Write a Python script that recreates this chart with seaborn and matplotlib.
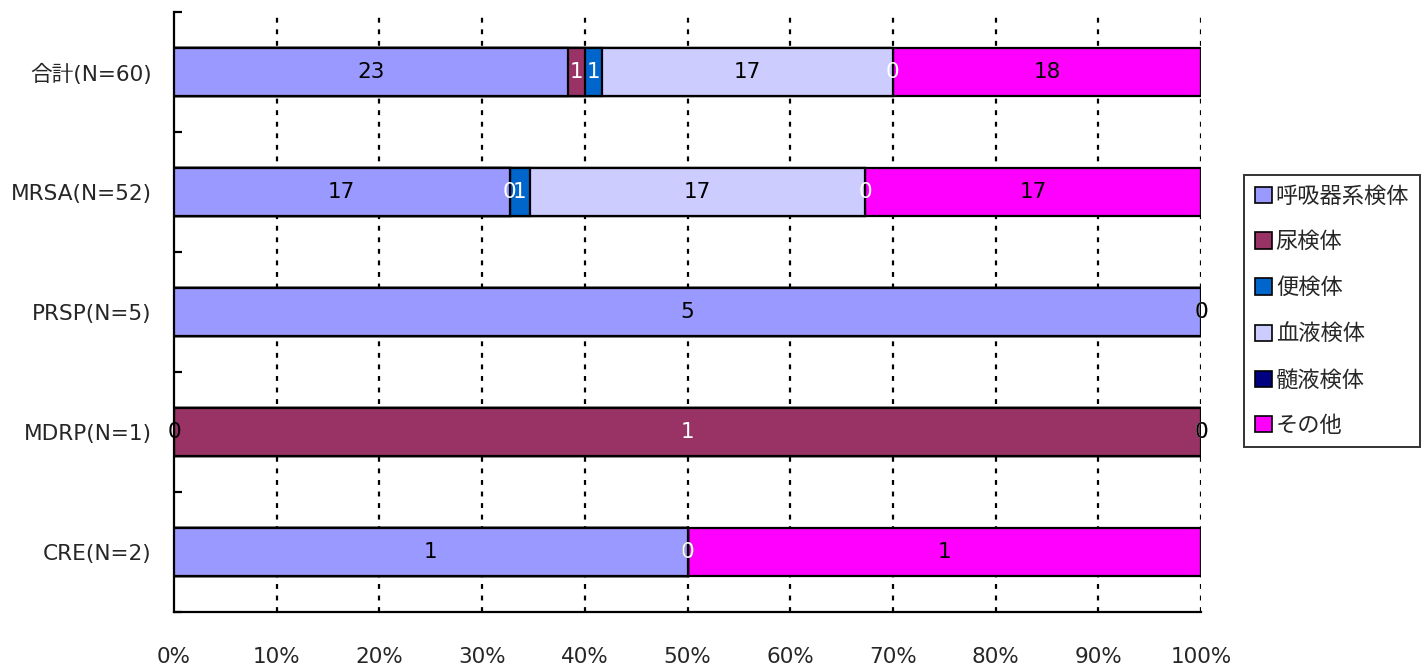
import numpy as np
import pandas as pd
import matplotlib
matplotlib.use("Agg")
import matplotlib.pyplot as plt
from matplotlib.patches import Patch
from matplotlib.ticker import FixedLocator
import seaborn as sns

categories = ["合計(N=60)", "MRSA(N=52)", "PRSP(N=5)", "MDRP(N=1)", "CRE(N=2)"]
series = ["呼吸器系検体", "尿検体", "便検体", "血液検体", "髄液検体", "その他"]
colors = ["#9999FF", "#993366", "#0066CC", "#CCCCFF", "#000080", "#FF00FF"]
label_colors = ["black", "white", "white", "black", "white", "black"]
v_resp = [23, 17, 5, 0, 1]
v_urine = [1, 0, 0, 1, 0]
v_stool = [1, 1, 0, 0, 0]
v_blood = [17, 17, 0, 0, 0]
v_csf = [0, 0, 0, 0, 0]
v_other = [18, 17, 0, 0, 1]
x_ticks = [0, 10, 20, 30, 40, 50, 60, 70, 80, 90, 100]

sns.set_theme(style="white")
plt.rcParams["font.family"] = ["DejaVu Sans", "Noto Sans CJK JP"]

vals = np.array([v_resp, v_urine, v_stool, v_blood, v_csf, v_other], dtype=float)
totals = vals.sum(axis=0)
pct = vals / totals * 100
cum = np.cumsum(pct, axis=0)

fig = plt.figure(figsize=(14.23, 6.68), dpi=100)
ax = fig.add_axes([174 / 1423, 56 / 668, (1201 - 174) / 1423, 600 / 668])

for i in range(len(series) - 1, -1, -1):
    df = pd.DataFrame({"cat": categories, "val": cum[i]})
    sns.barplot(data=df, x="val", y="cat", order=categories, color=colors[i],
                width=0.4, edgecolor="black", linewidth=1.6, errorbar=None,
                saturation=1, orient="h", ax=ax, zorder=3)

for i in range(len(series)):
    for j in range(len(categories)):
        left = cum[i][j] - pct[i][j]
        xc = left + pct[i][j] / 2
        ax.text(xc, j, f"{int(vals[i][j])}", ha="center", va="center",
                color=label_colors[i], fontsize=15.5, zorder=5)

ax.set_xlim(0, 100)
ax.set_ylim(len(categories) - 0.5, -0.5)
ax.xaxis.set_major_locator(FixedLocator(x_ticks))
ax.set_xticklabels([f"{t}%" for t in x_ticks])
ax.set_xlabel("")
ax.set_ylabel("")
ax.grid(False)
for t in x_ticks[1:]:
    ax.axvline(t, color="black", linewidth=1.6, linestyle=(0, (2.2, 3)), zorder=1)

ax.yaxis.set_minor_locator(FixedLocator(np.arange(-0.5, len(categories), 1.0)))
ax.tick_params(axis="y", which="major", length=0, pad=16, labelsize=15.6)
ax.tick_params(axis="y", which="minor", direction="in", length=6, width=1.6,
               color="black", left=True)
ax.tick_params(axis="x", which="major", length=0, pad=25, labelsize=15.5)

for s in ["top", "right"]:
    ax.spines[s].set_visible(False)
for s in ["left", "bottom"]:
    ax.spines[s].set_color("black")
    ax.spines[s].set_linewidth(1.6)

handles = [Patch(facecolor=c, edgecolor="black", linewidth=1.2) for c in colors]
leg = fig.legend(handles, series, loc="upper left",
                 bbox_to_anchor=(1244 / 1423, (668 - 175) / 668),
                 frameon=True, fancybox=False, fontsize=16,
                 handlelength=0.75, handleheight=0.75, handletextpad=0.18,
                 labelspacing=1.13, borderpad=0.5, borderaxespad=0)
leg.get_frame().set_edgecolor("black")
leg.get_frame().set_linewidth(1.4)

fig.savefig("out.png", dpi=100)
